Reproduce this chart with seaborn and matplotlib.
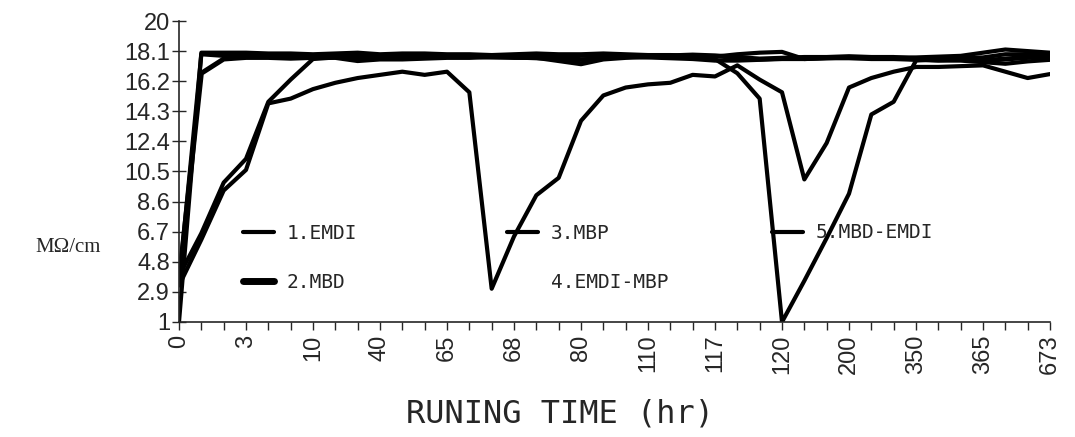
import numpy as np
import pandas as pd
import seaborn as sns
import matplotlib
matplotlib.use("Agg")
import matplotlib.pyplot as plt
from matplotlib import font_manager

# running time labels (every third category carries a label)
hours = ["0", "3", "10", "40", "65", "68", "80", "110", "117", "120",
         "200", "350", "365", "673"]
y_ticks = [1, 2.9, 4.8, 6.7, 8.6, 10.5, 12.4, 14.3, 16.2, 18.1, 20]
y_tick_labels = ["1", "2.9", "4.8", "6.7", "8.6", "10.5", "12.4", "14.3",
                 "16.2", "18.1", "20"]
series_names = ["1.EMDI", "2.MBD", "3.MBP", "4.EMDI-MBP", "5.MBD-EMDI"]

# resistivity (MOhm/cm), 40 samples per series
emdi = [1.0, 18.0, 18.0, 18.0, 17.95, 17.95, 17.9, 17.95, 18.0, 17.9,
        17.95, 17.95, 17.9, 17.9, 17.85, 17.9, 17.95, 17.9, 17.9, 17.95,
        17.9, 17.85, 17.85, 17.8, 17.75, 17.9, 18.0, 18.05, 17.6, 17.65,
        17.7, 17.7, 17.7, 17.7, 17.75, 17.8, 18.0, 18.2, 18.1, 18.0]
mbd = [3.6, 16.7, 17.6, 17.7, 17.7, 17.65, 17.7, 17.7, 17.5, 17.6,
       17.6, 17.65, 17.7, 17.7, 17.75, 17.7, 17.7, 17.5, 17.3, 17.6,
       17.7, 17.75, 17.8, 17.85, 17.8, 17.7, 17.6, 17.65, 17.7, 17.7,
       17.75, 17.7, 17.7, 17.6, 17.55, 17.6, 17.5, 17.6, 17.7, 17.75]
mbp = [3.9, 6.6, 9.8, 11.3, 14.9, 16.3, 17.6, 17.7, 17.6, 17.7,
       17.7, 17.75, 17.8, 17.75, 17.7, 17.7, 17.65, 17.6, 17.55, 17.7,
       17.75, 17.8, 17.8, 17.75, 17.6, 16.7, 15.1, 1.0, 3.6, 6.3,
       9.1, 14.1, 14.9, 17.5, 17.6, 17.65, 17.7, 17.9, 17.9, 17.85]
emdi_mbp = [3.3, 6.2, 9.3, 10.6, 14.8, 15.1, 15.7, 16.1, 16.4, 16.6,
            16.8, 16.6, 16.8, 15.5, 3.1, 6.4, 9.0, 10.1, 13.7, 15.3,
            15.8, 16.0, 16.1, 16.6, 16.5, 17.2, 16.3, 15.5, 10.0, 12.3,
            15.8, 16.4, 16.8, 17.1, 17.1, 17.15, 17.2, 16.8, 16.4, 16.65]
mbd_emdi = [3.5, 17.9, 17.8, 17.8, 17.8, 17.85, 17.8, 17.75, 17.8, 17.75,
            17.8, 17.8, 17.75, 17.8, 17.8, 17.85, 17.8, 17.75, 17.8, 17.8,
            17.75, 17.7, 17.65, 17.6, 17.5, 17.5, 17.55, 17.6, 17.6, 17.65,
            17.65, 17.6, 17.6, 17.55, 17.5, 17.5, 17.4, 17.3, 17.45, 17.55]

all_values = [emdi, mbd, mbp, emdi_mbp, mbd_emdi]
n_cat = len(emdi)
df = pd.DataFrame({
    "idx": np.tile(np.arange(n_cat), len(series_names)),
    "value": np.concatenate(all_values),
    "series": np.repeat(series_names, n_cat),
})

sns.set_style("ticks")
names = {f.name for f in font_manager.fontManager.ttflist}
tick_font = "Liberation Sans Narrow" if "Liberation Sans Narrow" in names else "Liberation Sans"
tick_size = 20 if tick_font == "Liberation Sans Narrow" else 17
plt.rcParams["font.family"] = [tick_font, "DejaVu Sans"]

fig = plt.figure(figsize=(10.75, 4.37), dpi=100)
ax = fig.add_axes([179 / 1075, 1 - 322 / 437, 871 / 1075, 301 / 437])

sns.lineplot(data=df, x="idx", y="value", hue="series", hue_order=series_names,
             palette=["black"] * 5, linewidth=3, legend=False, ax=ax)

lines = ax.get_lines()
lines[1].set_linewidth(3.6)

ax.set_xlim(0, n_cat - 1)
ax.set_ylim(1, 20)
ax.set_yticks(y_ticks)
ax.set_yticklabels(y_tick_labels, fontsize=tick_size)
xlabels = [""] * n_cat
for k, h in enumerate(hours):
    xlabels[k * 3] = h
ax.set_xticks(np.arange(n_cat))
ax.set_xticklabels(xlabels, rotation=90, fontsize=tick_size)
ax.tick_params(axis="y", direction="inout", length=10, width=1, pad=1.5)
ax.tick_params(axis="x", direction="out", length=6, width=1, pad=3)
for s in ["top", "right"]:
    ax.spines[s].set_visible(False)
for s in ["left", "bottom"]:
    ax.spines[s].set_linewidth(1.2)

ax.set_xlabel("RUNING TIME (hr)", fontsize=23, family="DejaVu Sans Mono")
ax.xaxis.set_label_coords(0.437, -0.255)
ax.set_ylabel("MΩ/cm", fontsize=15, family="Liberation Serif", rotation=0,
              va="center", ha="center")
ax.yaxis.set_label_coords(-0.1274, 0.246)

# legend laid out as three free-floating columns inside the plot
leg_kw = dict(frameon=False, prop={"family": "DejaVu Sans Mono", "size": 14},
              handlelength=1.6, handletextpad=0.65, labelspacing=1.55,
              borderpad=0, borderaxespad=0, loc="center left")
leg1 = ax.legend(lines[0:2], series_names[0:2], bbox_to_anchor=(0.0735, 0.2126), **leg_kw)
leg1.legend_handles[1].set_linewidth(5)
ax.add_artist(leg1)
leg2 = ax.legend(lines[2:4], series_names[2:4], bbox_to_anchor=(0.3766, 0.2126), **leg_kw)
leg2.legend_handles[1].set_visible(False)
ax.add_artist(leg2)
leg3 = ax.legend(lines[4:5], series_names[4:5], bbox_to_anchor=(0.681, 0.296), **leg_kw)

fig.savefig("out.png", dpi=100)
